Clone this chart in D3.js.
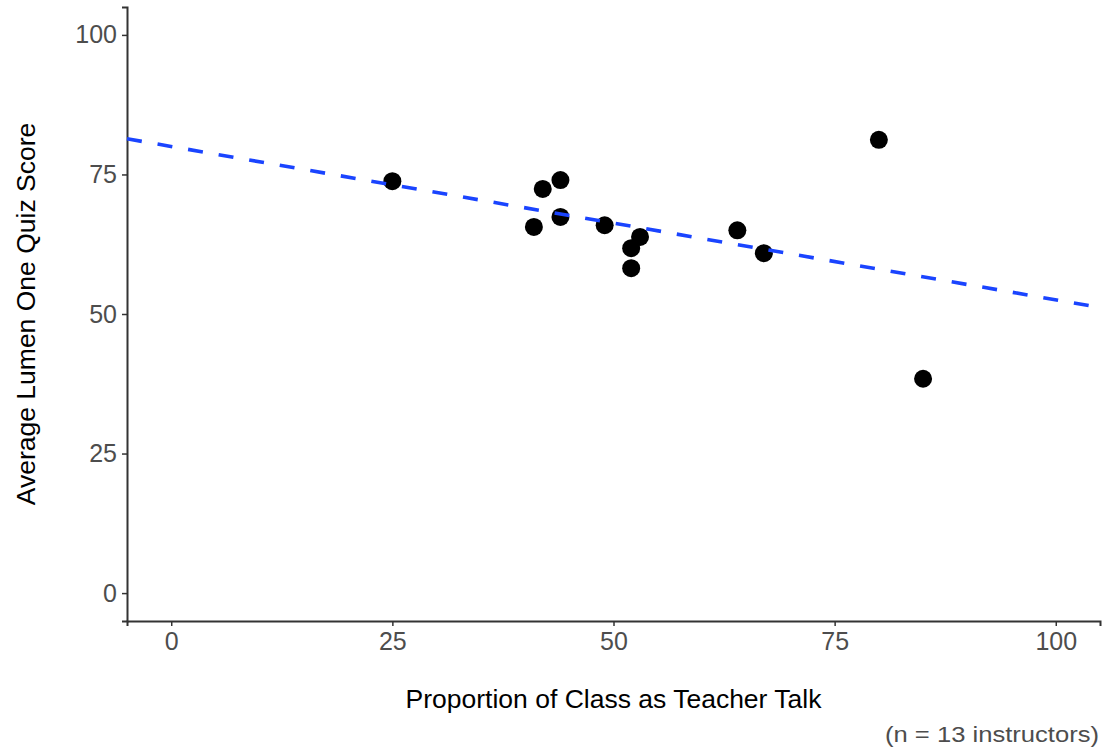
<!DOCTYPE html>
<html>
<head>
<meta charset="utf-8">
<script src="https://cdn.jsdelivr.net/npm/d3@7"></script>
<style>
  body { margin: 0; background: #fff; }
  svg { font-family: "Liberation Sans", Arial, sans-serif; }
  .tick text { fill: #4d4d4d; font-size: 25px; }
  .tick line, .domain { stroke: #333; }
</style>
</head>
<body>
<svg id="chart" width="1113" height="747"></svg>
<script>
// teacher talk share (%) and avg quiz score per instructor
const talkPct = [25, 41, 42, 44, 44, 49, 52, 52, 53, 64, 67, 80, 85];
const quizScore = [73.8, 65.6, 72.4, 74.0, 67.4, 65.9, 61.8, 58.2, 63.8, 65.0, 60.9, 81.2, 38.4];
const xTicks = [0, 25, 50, 75, 100];
const yTicks = [0, 25, 50, 75, 100];

const margin = {top: 7, right: 13, bottom: 126, left: 127};
const width = 1113 - margin.left - margin.right;
const height = 747 - margin.top - margin.bottom;

const svg = d3.select("#chart");
const g = svg.append("g")
  .attr("transform", "translate(" + margin.left + "," + margin.top + ")");

const x = d3.scaleLinear().domain([-5, 105]).range([0, width]);
const y = d3.scaleLinear().domain([-5, 105]).range([height, 0]);

const pts = talkPct.map((d, i) => ({x: d, y: quizScore[i]}));

// least squares fit, like geom_smooth(method = "lm")
const mx = d3.mean(pts, d => d.x), my = d3.mean(pts, d => d.y);
const slope = d3.sum(pts, d => (d.x - mx) * (d.y - my)) / d3.sum(pts, d => (d.x - mx) ** 2);
const intercept = my - slope * mx;

g.append("g")
  .attr("transform", "translate(0," + height + ")")
  .call(d3.axisBottom(x).tickValues(xTicks).tickSize(5).tickPadding(6))
  .call(a => a.select(".domain").attr("stroke-width", 2))
  .call(a => a.selectAll(".tick line").attr("stroke-width", 1.5));

g.append("g")
  .call(d3.axisLeft(y).tickValues(yTicks).tickSize(5).tickPadding(5))
  .call(a => a.select(".domain").attr("stroke-width", 2))
  .call(a => a.selectAll(".tick line").attr("stroke-width", 1.5));

// points
g.selectAll("circle.pt")
  .data(pts)
  .enter().append("circle")
  .attr("class", "pt")
  .attr("cx", d => x(d.x))
  .attr("cy", d => y(d.y))
  .attr("r", 9)
  .attr("fill", "#000");

// fitted line across the whole panel
const xs = x.domain();
g.append("line")
  .attr("x1", x(xs[0])).attr("y1", y(intercept + slope * xs[0]))
  .attr("x2", x(xs[1])).attr("y2", y(intercept + slope * xs[1]))
  .attr("stroke", "#1a44ff")
  .attr("stroke-width", 3.6)
  .attr("stroke-dasharray", "15 16");

// labels
svg.append("text")
  .attr("x", margin.left + width / 2)
  .attr("y", 708)
  .attr("text-anchor", "middle")
  .attr("font-size", 26.5)
  .attr("fill", "#000")
  .text("Proportion of Class as Teacher Talk");

svg.append("text")
  .attr("transform", "translate(35," + (margin.top + height / 2) + ") rotate(-90)")
  .attr("text-anchor", "middle")
  .attr("font-size", 26.5)
  .attr("fill", "#000")
  .text("Average Lumen One Quiz Score");

svg.append("text")
  .attr("x", 885)
  .attr("y", 742)
  .attr("font-size", 21.5)
  .attr("textLength", 214)
  .attr("lengthAdjust", "spacingAndGlyphs")
  .attr("fill", "#4d4d4d")
  .text("(n = 13 instructors)");
</script>
</body>
</html>
